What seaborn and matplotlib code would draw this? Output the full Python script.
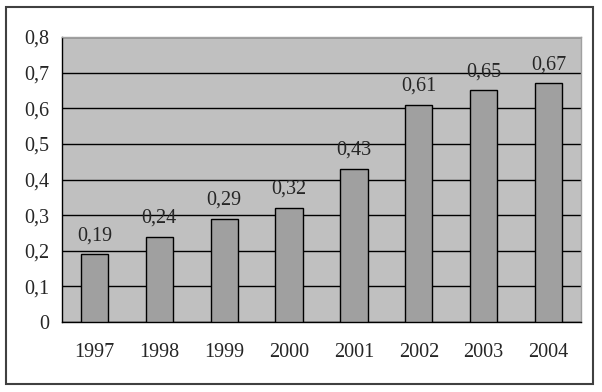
import numpy as np
import pandas as pd
import matplotlib
matplotlib.use("Agg")
import matplotlib.pyplot as plt
from matplotlib.patches import Rectangle
import seaborn as sns

years = ["1997", "1998", "1999", "2000", "2001", "2002", "2003", "2004"]
values = [0.19, 0.24, 0.29, 0.32, 0.43, 0.61, 0.65, 0.67]
y_ticks = [0, 0.1, 0.2, 0.3, 0.4, 0.5, 0.6, 0.7, 0.8]


def comma(v):
    s = f"{v:.2f}".rstrip("0").rstrip(".") if v != 0 else "0"
    return s.replace(".", ",")


sns.set_style("white")
plt.rcParams["font.family"] = ["Liberation Serif", "DejaVu Serif"]
plt.rcParams["font.size"] = 14.5

df = pd.DataFrame({"year": years, "value": values})

fig = plt.figure(figsize=(6.02, 3.92), dpi=100)
ax = fig.add_axes([62 / 602, 1 - 322 / 392, (581 - 62) / 602, (322 - 37) / 392])
ax.set_facecolor("#c0c0c0")

sns.barplot(data=df, x="year", y="value", color="#a0a0a0", saturation=1,
            edgecolor="black", linewidth=1, width=0.42, ax=ax, zorder=3)

for i, v in enumerate(values):
    ax.text(i, v + 0.026, comma(v), ha="center", va="bottom", fontsize=14.5, zorder=4)

ax.set_ylim(0, 0.8)
ax.set_xlim(-0.5, len(years) - 0.5)
ax.set_yticks(y_ticks)
ax.set_yticklabels([comma(t) for t in y_ticks])
ax.yaxis.grid(True, color="black", linewidth=1)
ax.set_axisbelow(True)
ax.set_xlabel("")
ax.set_ylabel("")

# category separator ticks
ax.set_xticks(np.arange(len(years)))
ax.set_xticklabels(years)
ax.tick_params(axis="x", length=0, pad=15)
ax.set_xticks(np.arange(len(years) + 1) - 0.5, minor=True)
ax.tick_params(axis="x", which="minor", length=5, width=1, color="black", direction="out")
ax.tick_params(axis="y", length=5, width=1, color="black", direction="out", pad=4)

for side in ["left", "bottom"]:
    ax.spines[side].set_color("black")
    ax.spines[side].set_linewidth(1)
for side in ["top", "right"]:
    ax.spines[side].set_color("#a0a0a0")
    ax.spines[side].set_linewidth(1)

fig.patches.append(Rectangle((6 / 602, 1 - 384 / 392), 587 / 602, 377 / 392,
                             transform=fig.transFigure, fill=False,
                             edgecolor="#404040", linewidth=1.5))

fig.savefig("out.png", dpi=100)
